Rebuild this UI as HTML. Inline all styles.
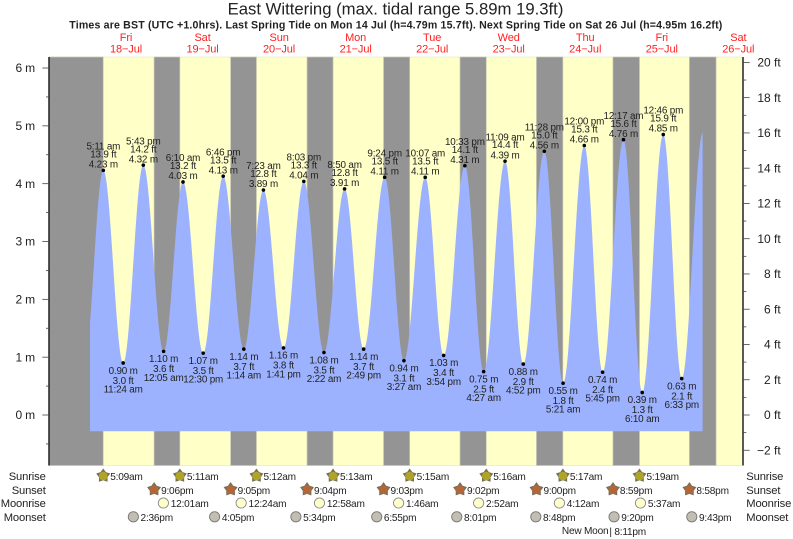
<!DOCTYPE html>
<html lang="en">
<head>
<meta charset="utf-8">
<title>East Wittering tide chart</title>
<style>
html,body{margin:0;padding:0;background:#fff;width:793px;height:539px;overflow:hidden}
svg{display:block;font-family:"Liberation Sans",Arial,sans-serif;filter:blur(0.3px)}
.tide-text{font-size:9.9px;letter-spacing:-0.17px}
.alm-text{font-size:10.1px;letter-spacing:-0.22px}
.row-text{font-size:11.2px;letter-spacing:-0.14px}
</style>
</head>
<body>
<svg id="chart" xmlns="http://www.w3.org/2000/svg" width="793" height="539" viewBox="0 0 793 539">
<rect x="0" y="0" width="793" height="539" fill="#ffffff"/>
<text x="395.5" y="14.7" font-size="16.7" text-anchor="middle" fill="#222">East Wittering (max. tidal range 5.89m 19.3ft)</text>
<text x="395.8" y="28.7" font-size="10.6" font-weight="bold" text-anchor="middle" textLength="653" lengthAdjust="spacing" fill="#222">Times are BST (UTC +1.0hrs). Last Spring Tide on Mon 14 Jul (h=4.79m 15.7ft). Next Spring Tide on Sat 26 Jul (h=4.95m 16.2ft)</text>
<g id="plot"></g>
<g id="axes"></g>
<g id="days"></g>
<g id="tides"></g>
<g id="almanac">
<text class="row-text" x="45.7" y="480" text-anchor="end" fill="#222">Sunrise</text>
<text class="row-text" x="45.7" y="493.8" text-anchor="end" fill="#222">Sunset</text>
<text class="row-text" x="45.7" y="507" text-anchor="end" fill="#222">Moonrise</text>
<text class="row-text" x="45.7" y="520.8" text-anchor="end" fill="#222">Moonset</text>
<text class="row-text" x="746.3" y="480" fill="#222">Sunrise</text>
<text class="row-text" x="746.3" y="493.8" fill="#222">Sunset</text>
<text class="row-text" x="746.3" y="507" fill="#222">Moonrise</text>
<text class="row-text" x="746.3" y="520.8" fill="#222">Moonset</text>
</g>
</svg>
<script>
// ---- Data ----
const dayNames = ['Fri','Sat','Sun','Mon','Tue','Wed','Thu','Fri','Sat'];
const dayDates = ['18\u2212Jul','19\u2212Jul','20\u2212Jul','21\u2212Jul','22\u2212Jul','23\u2212Jul','24\u2212Jul','25\u2212Jul','26\u2212Jul'];

const tideDays = [0,0,0,1,1,1,1,2,2,2,2,3,3,3,3,4,4,4,4,5,5,5,5,6,6,6,7,7,7,7];
const tideClock = ['5:11 am','11:24 am','5:43 pm','12:05 am','6:10 am','12:30 pm','6:46 pm','1:14 am','7:23 am','1:41 pm','8:03 pm','2:22 am','8:50 am','2:49 pm','9:24 pm','3:27 am','10:07 am','3:54 pm','10:33 pm','4:27 am','11:09 am','4:52 pm','11:28 pm','5:21 am','12:00 pm','5:45 pm','12:17 am','6:10 am','12:46 pm','6:33 pm'];
const tideMetres = [4.23,0.90,4.32,1.10,4.03,1.07,4.13,1.14,3.89,1.16,4.04,1.08,3.91,1.14,4.11,0.94,4.11,1.03,4.31,0.75,4.39,0.88,4.56,0.55,4.66,0.74,4.76,0.39,4.85,0.63];
const tideFeet = ['13.9','3.0','14.2','3.6','13.2','3.5','13.5','3.7','12.8','3.8','13.3','3.5','12.8','3.7','13.5','3.1','13.5','3.4','14.1','2.5','14.4','2.9','15.0','1.8','15.3','2.4','15.6','1.3','15.9','2.1'];
const tideIsHigh = [1,0,1,0,1,0,1,0,1,0,1,0,1,0,1,0,1,0,1,0,1,0,1,0,1,0,1,0,1,0];

// unlabelled turning points just outside the drawn stretch of the curve
const priorLowDay = -1;
const priorLowClock = '11:12 pm';
const priorLowMetres = 0.90;
const nextHighDay = 8;
const nextHighClock = '1:15 am';
const nextHighMetres = 4.89;
const curveStartDay = 0;
const curveStartClock = '1:00 am';
const curveEndDay = 8;
const curveEndClock = '1:06 am';
const curveFloorMetres = -0.28;

const sunriseClock = ['5:09am','5:11am','5:12am','5:13am','5:15am','5:16am','5:17am','5:19am'];
const sunsetClock = ['9:06pm','9:05pm','9:04pm','9:03pm','9:02pm','9:00pm','8:59pm','8:58pm'];
const finalSunriseClock = '5:20am';
const moonriseDays = [1,2,3,4,5,6,7];
const moonriseClock = ['12:01am','12:24am','12:58am','1:46am','2:52am','4:12am','5:37am'];
const moonsetDays = [0,1,2,3,4,5,6,7];
const moonsetClock = ['2:36pm','4:05pm','5:34pm','6:55pm','8:01pm','8:48pm','9:20pm','9:43pm'];
const moonPhaseDay = 6;
const moonPhaseName = 'New Moon';
const moonPhaseClock = '8:11pm';

const metreTicks = [0,1,2,3,4,5,6];
const metreMinorTicks = [-0.5,0.5,1.5,2.5,3.5,4.5,5.5];
const feetTicks = [-2,0,2,4,6,8,10,12,14,16,18,20];
const feetMinorTicks = [-1,1,3,5,7,9,11,13,15,17,19];

// ---- Axis functions ----
const SVGNS = 'http://www.w3.org/2000/svg';
function xAt(hours){ return 86.8 + 3.189 * hours; }
function yMetres(m){ return 415 - 57.83 * m; }
function yFeet(ft){ return 415 - 17.63 * ft; }
function parseClock(s){
  const match = s.match(/(\d+):(\d+)\s*(am|pm)/);
  let h = parseInt(match[1],10) % 12;
  if (match[3] === 'pm') h += 12;
  return h + parseInt(match[2],10) / 60;
}
function hoursOf(day, clock){ return day * 24 + parseClock(clock); }

function make(parent, tag, name, attrs, content){
  const el = document.createElementNS(SVGNS, tag);
  
  
  for (const k in attrs) el.setAttribute(k, attrs[k]);
  if (content !== undefined) el.textContent = content;
  parent.appendChild(el);
  return el;
}

const plotG = document.getElementById('plot');
const axesG = document.getElementById('axes');
const daysG = document.getElementById('days');
const tidesG = document.getElementById('tides');
const almanacG = document.getElementById('almanac');

const plotLeft = 49, plotRight = 743, plotTop = 57, plotBottom = 465.5;

// day background
make(plotG, 'rect', 'daylight-background', {x:plotLeft,y:plotTop,width:plotRight-plotLeft,height:plotBottom-plotTop,fill:'#ffffc8',stroke:'#e4e4c0','stroke-width':0.6});

// night bands
const sunriseHours = sunriseClock.map((c,i)=>hoursOf(i,c));
const sunsetHours = sunsetClock.map((c,i)=>hoursOf(i,c));
sunriseHours.push(hoursOf(sunriseClock.length, finalSunriseClock));
function nightBand(x0, x1, name){
  make(plotG, 'rect', name, {x:x0,y:plotTop,width:x1-x0,height:plotBottom-plotTop,fill:'#949494',stroke:'#c9c9b8','stroke-width':0.7});
}
nightBand(plotLeft, xAt(sunriseHours[0]), 'night-band-0');
sunsetHours.forEach((h,i)=>{
  nightBand(xAt(h), xAt(sunriseHours[i+1]), 'night-band-'+(i+1));
});

// tide curve: half-cosine between successive turning points
const turnHours = [hoursOf(priorLowDay,priorLowClock)].concat(tideClock.map((c,i)=>hoursOf(tideDays[i],c)), [hoursOf(nextHighDay,nextHighClock)]);
const turnLevels = [priorLowMetres].concat(tideMetres, [nextHighMetres]);
function levelAt(h){
  for (let i=0;i<turnHours.length-1;i++){
    if (h<=turnHours[i+1]){
      const t=(h-turnHours[i])/(turnHours[i+1]-turnHours[i]);
      return turnLevels[i]+(turnLevels[i+1]-turnLevels[i])*(1-Math.cos(Math.PI*t))/2;
    }
  }
  return turnLevels[turnLevels.length-1];
}
const curveStart = hoursOf(curveStartDay,curveStartClock);
const curveEnd = hoursOf(curveEndDay,curveEndClock);
const sampleHours = [];
for (let h=curveStart;h<curveEnd;h+=0.1) sampleHours.push(h);
turnHours.forEach(h=>{ if(h>curveStart&&h<curveEnd) sampleHours.push(h); });
sampleHours.push(curveEnd);
sampleHours.sort((a,b)=>a-b);
let curvePath = 'M'+xAt(curveStart).toFixed(2)+' '+yMetres(curveFloorMetres).toFixed(2);
sampleHours.forEach(h=>{ curvePath += 'L'+xAt(h).toFixed(2)+' '+yMetres(levelAt(h)).toFixed(2); });
curvePath += 'L'+xAt(curveEnd).toFixed(2)+' '+yMetres(curveFloorMetres).toFixed(2)+'Z';
make(plotG, 'path', 'tide-curve-area', {d:curvePath,fill:'#9db2ff'});

// axes
make(axesG, 'line', 'metres-axis-line', {x1:plotLeft,y1:plotTop,x2:plotLeft,y2:plotBottom,stroke:'#222','stroke-width':1.5});
make(axesG, 'line', 'feet-axis-line', {x1:plotRight,y1:plotTop,x2:plotRight,y2:plotBottom,stroke:'#222','stroke-width':1.5});
metreTicks.forEach(m=>{
  const y=yMetres(m);
  make(axesG,'line','metres-tick-'+m,{x1:42.3,y1:y,x2:plotLeft,y2:y,stroke:'#444','stroke-width':0.8});
  make(axesG,'text','metres-tick-label-'+m,{x:35,y:y+4.2,'font-size':12,'letter-spacing':-0.15,'text-anchor':'end',fill:'#222'},m+' m');
});
metreMinorTicks.forEach((m,i)=>{
  const y=yMetres(m);
  make(axesG,'line','metres-minor-tick-'+i,{x1:46,y1:y,x2:plotLeft,y2:y,stroke:'#444','stroke-width':0.8});
});
feetTicks.forEach(ft=>{
  const y=yFeet(ft);
  make(axesG,'line','feet-tick-'+ft,{x1:plotRight,y1:y,x2:749.7,y2:y,stroke:'#444','stroke-width':0.8});
  make(axesG,'text','feet-tick-label-'+ft,{x:780.7,y:y+4.2,'font-size':12,'text-anchor':'end',fill:'#222'},(ft<0?'\u2212'+Math.abs(ft):ft)+' ft');
});
feetMinorTicks.forEach((ft,i)=>{
  const y=yFeet(ft);
  make(axesG,'line','feet-minor-tick-'+i,{x1:plotRight,y1:y,x2:746.3,y2:y,stroke:'#444','stroke-width':0.8});
});

// day headers
dayNames.forEach((d,i)=>{
  const x=xAt(i*24+12.3);
  make(daysG,'text','day-name-'+i,{x:x,y:40.9,'font-size':11,'letter-spacing':-0.1,'text-anchor':'middle',fill:'#ff2020'},d);
  make(daysG,'text','day-date-'+i,{x:x,y:52.5,'font-size':11,'letter-spacing':-0.1,'text-anchor':'middle',fill:'#ff2020'},dayDates[i]);
});

// tide points and labels
tideClock.forEach((c,i)=>{
  const x=xAt(hoursOf(tideDays[i],c));
  const y=yMetres(tideMetres[i]);
  make(tidesG,'circle','tide-point-'+i,{cx:x,cy:y,r:1.8,fill:'#000'});
  const offs = tideIsHigh[i] ? [-20.8,-12.9,-2.8] : [29.5,20.8,10.8];
  make(tidesG,'text','tide-time-'+i,{class:'tide-text',x:x,y:y+offs[0],'text-anchor':'middle',fill:'#222'},c);
  make(tidesG,'text','tide-feet-'+i,{class:'tide-text',x:x,y:y+offs[1],'text-anchor':'middle',fill:'#222'},tideFeet[i]+' ft');
  make(tidesG,'text','tide-height-'+i,{class:'tide-text',x:x,y:y+offs[2],'text-anchor':'middle',fill:'#222'},tideMetres[i].toFixed(2)+' m');
});

// sun and moon icons
function starPoints(cx,cy,rOut,rIn){
  const pts=[];
  for(let k=0;k<10;k++){
    const r=k%2?rIn:rOut;
    const a=-Math.PI/2+k*Math.PI/5;
    pts.push((cx+r*Math.cos(a)).toFixed(2)+','+(cy+r*Math.sin(a)).toFixed(2));
  }
  return pts.join(' ');
}
function sunIcon(x,y,fill,name){
  make(almanacG,'polygon',name,{points:starPoints(x,y,6.8,4.2),fill:'#7f7448',stroke:'#6e6a58','stroke-width':0.6});
  make(almanacG,'circle',name+'-disc',{cx:x,cy:y+0.3,r:4.3,fill:fill});
}
sunriseClock.forEach((c,i)=>{
  const x=xAt(hoursOf(i,c));
  sunIcon(x,475.8,'#b0a428','sunrise-icon-'+i);
  make(almanacG,'text','sunrise-time-'+i,{class:'alm-text',x:x+7,y:480,fill:'#222'},c);
});
sunsetClock.forEach((c,i)=>{
  const x=xAt(hoursOf(i,c));
  sunIcon(x,489.4,'#b4663a','sunset-icon-'+i);
  make(almanacG,'text','sunset-time-'+i,{class:'alm-text',x:x+7,y:493.8,fill:'#222'},c);
});
moonriseClock.forEach((c,i)=>{
  const x=xAt(hoursOf(moonriseDays[i],c));
  make(almanacG,'circle','moonrise-icon-'+i,{cx:x,cy:503,r:5.1,fill:'#ffffcc',stroke:'#888','stroke-width':0.9});
  make(almanacG,'text','moonrise-time-'+i,{class:'alm-text',x:x+7.4,y:507,fill:'#222'},c);
});
moonsetClock.forEach((c,i)=>{
  const x=xAt(hoursOf(moonsetDays[i],c));
  make(almanacG,'circle','moonset-icon-'+i,{cx:x,cy:516.8,r:5.1,fill:'#c2beb2',stroke:'#777','stroke-width':0.9});
  make(almanacG,'text','moonset-time-'+i,{class:'alm-text',x:x+7.2,y:520.8,fill:'#222'},c);
});
const phaseX = xAt(hoursOf(moonPhaseDay,moonPhaseClock));
make(almanacG,'text','moon-phase-name',{class:'alm-text',x:phaseX-2,y:534,'text-anchor':'end',fill:'#222'},moonPhaseName);
make(almanacG,'text','moon-phase-time',{class:'alm-text',x:phaseX-1,y:534.8,fill:'#222'},'| '+moonPhaseClock);
</script>
</body>
</html>
